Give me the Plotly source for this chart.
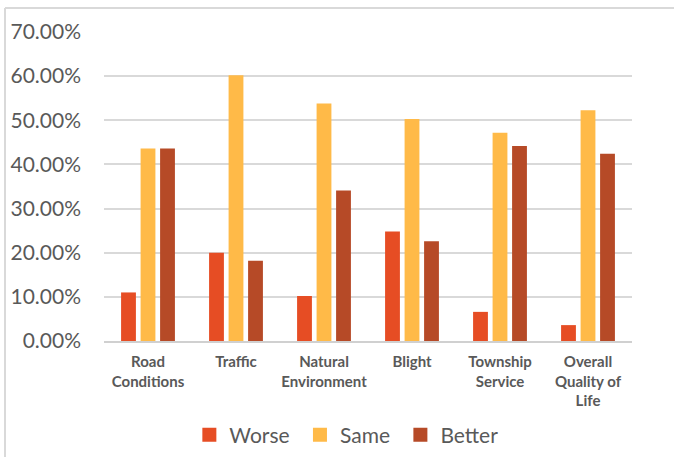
import plotly.graph_objects as go

CATEGORIES = [
    "Road<br>Conditions",
    "Traffic",
    "Natural<br>Environment",
    "Blight",
    "Township<br>Service",
    "Overall<br>Quality of<br>Life",
]
WORSE = [0.110, 0.200, 0.102, 0.248, 0.066, 0.036]
SAME = [0.436, 0.602, 0.538, 0.503, 0.472, 0.523]
BETTER = [0.436, 0.182, 0.341, 0.226, 0.442, 0.424]
Y_TICKS = [0.0, 0.1, 0.2, 0.3, 0.4, 0.5, 0.6, 0.7]

FONT = "Lato, 'Open Sans', sans-serif"
GREY = "#595959"
PAD = "\u00a0"  # a little extra room between legend entries

SERIES = [
    ("Worse", WORSE, "#E64D24"),
    ("Same", SAME, "#FFBA48"),
    ("Better", BETTER, "#B64A27"),
]

fig = go.Figure()
for name, vals, color in SERIES:
    fig.add_trace(go.Bar(name=name, x=CATEGORIES, y=vals, marker_color=color,
                         marker_line_width=0, showlegend=False))

# legend-only entries so the swatches can be bigger than plotly's bar icon
for i, (name, vals, color) in enumerate(SERIES):
    label = name + (PAD if i < len(SERIES) - 1 else "")
    fig.add_trace(go.Scatter(name=label, x=[None], y=[None], mode="markers",
                             marker=dict(symbol="square", size=14, color=color)))

fig.update_layout(
    width=674,
    height=457,
    margin=dict(l=104, r=42, t=32, b=116),
    paper_bgcolor="white",
    plot_bgcolor="white",
    barmode="group",
    bargap=0.335,
    bargroupgap=0.24,
    font=dict(family=FONT, color=GREY),
    showlegend=True,
    legend=dict(
        orientation="h",
        x=0.459, xanchor="center",
        yref="container",
        y=0.048, yanchor="middle",
        font=dict(size=21, color=GREY),
        itemwidth=30,
        tracegroupgap=0,
    ),
    xaxis=dict(
        showgrid=False,
        showline=True,
        linecolor="#D0D0D0",
        linewidth=2,
        ticks="",
        automargin=False,
        ticklabelstandoff=6,
        tickfont=dict(size=15, color=GREY, family=FONT, weight="bold"),
    ),
    yaxis=dict(
        range=[0, 0.7],
        tickvals=Y_TICKS,
        tickformat=".2%",
        showgrid=True,
        gridcolor="#D9D9D9",
        gridwidth=1.5,
        zeroline=False,
        showline=False,
        ticks="",
        automargin=False,
        ticklabelstandoff=22,
        tickfont=dict(size=21, color=GREY),
    ),
    shapes=[
        dict(type="line", xref="paper", yref="paper",
             x0=-0.1875, x1=1.1, y0=1.078, y1=1.078,
             line=dict(color="#D9D9D9", width=2)),
        dict(type="line", xref="paper", yref="paper",
             x0=-0.1875, x1=-0.1875, y0=1.078, y1=-0.5,
             line=dict(color="#D9D9D9", width=2)),
    ],
)

# drop the default page margin so the figure sits at the window's corner
fig.write_html(
    "out.html",
    config={"displayModeBar": False},
    post_script="document.body.style.margin='0';",
)
